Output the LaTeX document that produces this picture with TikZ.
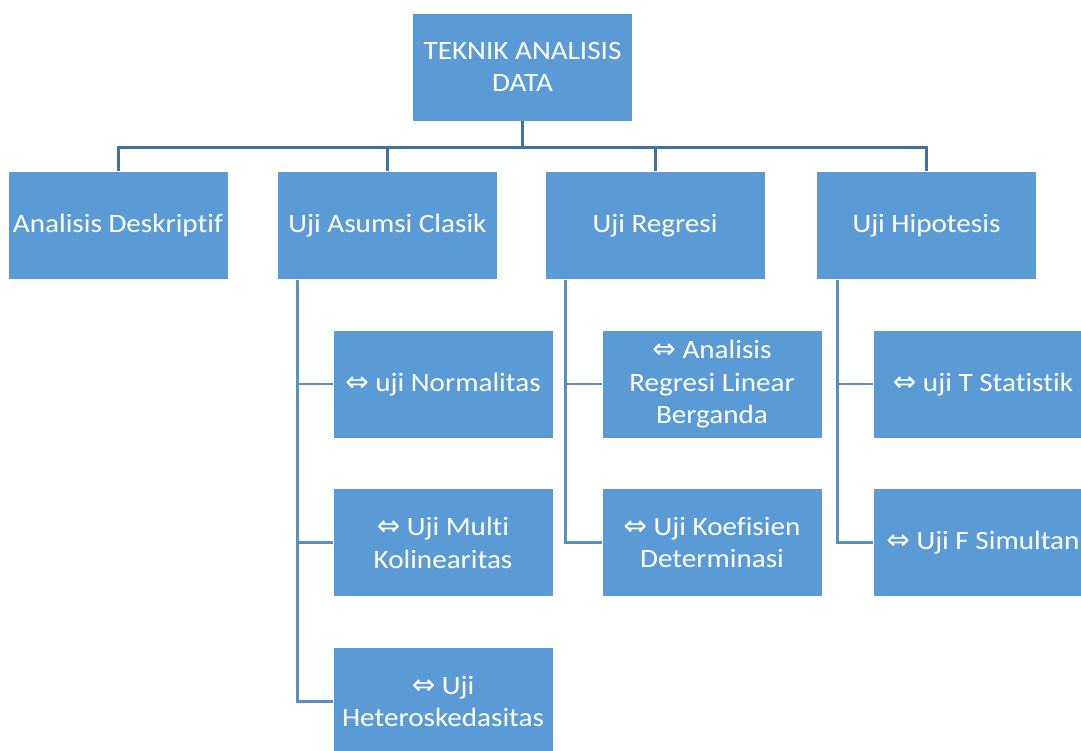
\documentclass[tikz,border=0pt]{standalone}
\usepackage{fontspec}
\setmainfont{Carlito}[Ligatures=NoCommon, FakeStretch=1.1]
\newfontfamily\symfont{DejaVu Sans}
\usetikzlibrary{positioning}
\definecolor{boxblue}{HTML}{5B9BD5}
\definecolor{linkblue}{HTML}{41719C}
\definecolor{sublinkblue}{HTML}{5A8FC6}
\newcommand{\lr}{{\symfont\fontsize{28}{28}\selectfont ⇔}}
\tikzset{%
  box/.style={fill=boxblue, draw=white, line width=0.6pt, text=white,
    minimum width=220pt, minimum height=108pt,
    align=center, inner sep=0pt, font=\fontsize{26.5}{32.5}\selectfont},
  link/.style={draw=linkblue, line width=3pt},
  sublink/.style={draw=sublinkblue, line width=2.6pt}
}
\begin{document}
\begin{tikzpicture}[x=1pt, y=-1pt, node distance=50pt]
\useasboundingbox (0,0) rectangle (1081,750);

\node[box] (top) at (522.5,67) {TEKNIK ANALISIS\\DATA};
\node[box] (a0) at (118,225.5) {Analisis Deskriptif};
\node[box] (b0) at (387.5,225.5) {Uji Asumsi Clasik};
\node[box] (c0) at (655,225.5) {Uji Regresi};
\node[box] (d0) at (926.5,225.5) {Uji Hipotesis};
\coordinate (hub) at (522.5,147);
\draw[link] (top) -- (hub);
\draw[link] (a0.north) |- (hub) -| (d0.north);
\draw[link] (b0.north) -- (b0.north |- hub);
\draw[link] (c0.north) -- (c0.north |- hub);

% children of Uji Asumsi Clasik
\node[box, below=of b0, xshift=55.5pt] (b1) {\lr\ uji Normalitas};
\node[box, below=of b1] (b2) {\lr\ Uji Multi\\Kolinearitas};
\node[box, below=of b2] (b3) {\lr\ Uji\\Heteroskedasitas};
\draw[sublink] ([xshift=20pt]b0.south west) |- (b3.west);
\draw[sublink] ([xshift=20pt]b0.south west) |- (b1.west);
\draw[sublink] ([xshift=20pt]b0.south west) |- (b2.west);

% children of Uji Regresi
\node[box, below=of c0, xshift=57pt] (c1) {\lr\ Analisis\\Regresi Linear\\Berganda};
\node[box, below=of c1] (c2) {\lr\ Uji Koefisien\\Determinasi};
\draw[sublink] ([xshift=21pt]c0.south west) |- (c2.west);
\draw[sublink] ([xshift=21pt]c0.south west) |- (c1.west);

% children of Uji Hipotesis
\node[box, below=of d0, xshift=56.5pt] (d1) {\lr\ uji T Statistik};
\node[box, below=of d1] (d2) {\lr\ Uji F Simultan};
\draw[sublink] ([xshift=21pt]d0.south west) |- (d2.west);
\draw[sublink] ([xshift=21pt]d0.south west) |- (d1.west);

\end{tikzpicture}
\end{document}
